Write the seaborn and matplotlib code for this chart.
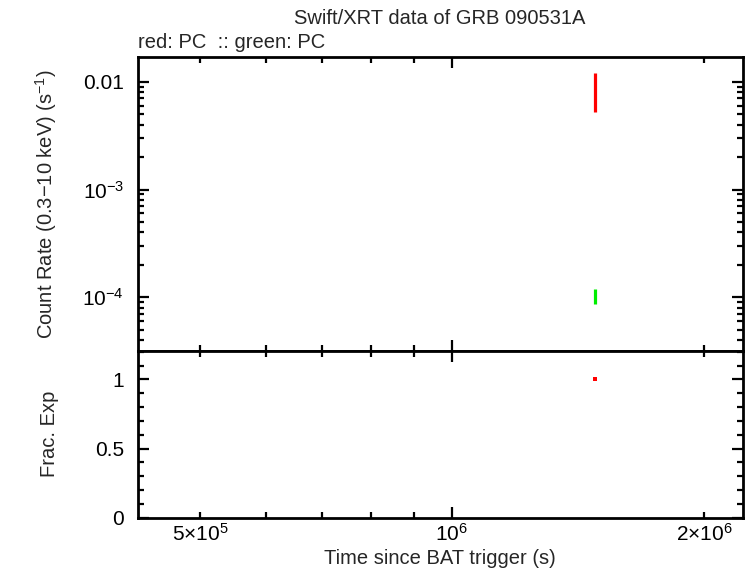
import numpy as np
import pandas as pd
import matplotlib
matplotlib.use('Agg')
import matplotlib.pyplot as plt
import seaborn as sns
from matplotlib.ticker import FixedLocator, FixedFormatter, NullFormatter

# light curve points
red_time = [1.483e6]
red_rate = [0.00866]
red_err = [0.00339]
green_time = [1.483e6]
green_rate = [1.03e-4]
green_err = [1.6e-5]
frac_time = [1.483e6]
frac_exp = [1.0]

title = 'Swift/XRT data of GRB 090531A'
subtitle = 'red: PC  :: green: PC'

sns.set_style('ticks')
plt.rcParams['font.family'] = ['Liberation Sans', 'DejaVu Sans']
plt.rcParams['mathtext.fontset'] = 'custom'
plt.rcParams['mathtext.rm'] = 'Liberation Sans'
plt.rcParams['mathtext.it'] = 'Liberation Sans:italic'
plt.rcParams['axes.unicode_minus'] = True

fig = plt.figure(figsize=(7.46, 5.68), dpi=100)
ax1 = fig.add_axes([138 / 746, 1 - 350.7 / 568, (742.7 - 138) / 746, (350.7 - 57) / 568])
ax2 = fig.add_axes([138 / 746, 1 - 517.7 / 568, (742.7 - 138) / 746, (517.7 - 350.7) / 568])

ax1.errorbar(red_time, red_rate, yerr=red_err, fmt='none', ecolor='#ff0000', elinewidth=2.3, capsize=0)
ax1.errorbar(green_time, green_rate, yerr=green_err, fmt='none', ecolor='#00ee00', elinewidth=2.3, capsize=0)

df_frac = pd.DataFrame({'t': frac_time, 'f': frac_exp})
sns.scatterplot(data=df_frac, x='t', y='f', ax=ax2, color='#ff0000', marker='s', s=6, linewidth=0)

for ax in (ax1, ax2):
    ax.set_xscale('log')
    ax.set_xlim(4.217e5, 2.225e6)
    ax.xaxis.set_major_locator(FixedLocator([1e6]))
    ax.xaxis.set_minor_locator(FixedLocator([5e5, 6e5, 7e5, 8e5, 9e5, 2e6]))
    for side in ax.spines.values():
        side.set_linewidth(2)
        side.set_color('black')
    ax.tick_params(which='both', direction='in', top=True, right=True, colors='black', labelsize=15)
    ax.tick_params(which='major', length=8, width=1.6)
    ax.tick_params(which='minor', length=4, width=1.6)
    ax.tick_params(axis='y', which='both', pad=10)

ax1.set_yscale('log')
ax1.set_ylim(10 ** -4.495, 10 ** -1.771)
ax1.yaxis.set_major_locator(FixedLocator([1e-4, 1e-3, 1e-2]))
ax1.yaxis.set_major_formatter(FixedFormatter([r'10$^{-4}$', r'10$^{-3}$', '0.01']))
ax1.yaxis.set_minor_locator(FixedLocator([k * 10.0 ** e for e in (-5, -4, -3, -2) for k in range(2, 10)]))
ax1.yaxis.set_minor_formatter(NullFormatter())
ax1.xaxis.set_major_formatter(NullFormatter())
ax1.xaxis.set_minor_formatter(NullFormatter())
ax1.set_ylabel(r'Count Rate (0.3$-$10 keV) (s$^{-1}$)', fontsize=14.5)

ax2.set_ylim(0, 1.207)
ax2.yaxis.set_major_locator(FixedLocator([0, 0.5, 1]))
ax2.yaxis.set_major_formatter(FixedFormatter(['0', '0.5', '1']))
ax2.yaxis.set_minor_locator(FixedLocator(np.arange(0.1, 1.25, 0.1)))
ax2.xaxis.set_major_formatter(FixedFormatter([r'10$^{6}$']))
ax2.xaxis.set_minor_formatter(FixedFormatter([r'5$\times$10$^{5}$', '', '', '', '', r'2$\times$10$^{6}$']))
ax2.tick_params(axis='x', which='both', pad=4)
ax2.set_xlabel('Time since BAT trigger (s)', fontsize=14.5)
ax2.set_ylabel('Frac. Exp', fontsize=14.5)
ax2.xaxis.set_label_coords(0.5, -0.19)

ax1.yaxis.set_label_coords(-0.13, 0.5)
ax2.yaxis.set_label_coords(-0.13, 0.5)

fig.text(440 / 746, 1 - 19 / 568, title, ha='center', va='center', fontsize=14.5)
fig.text(138 / 746, 1 - 42 / 568, subtitle, ha='left', va='center', fontsize=14.5)

fig.savefig('out.png', dpi=100)
